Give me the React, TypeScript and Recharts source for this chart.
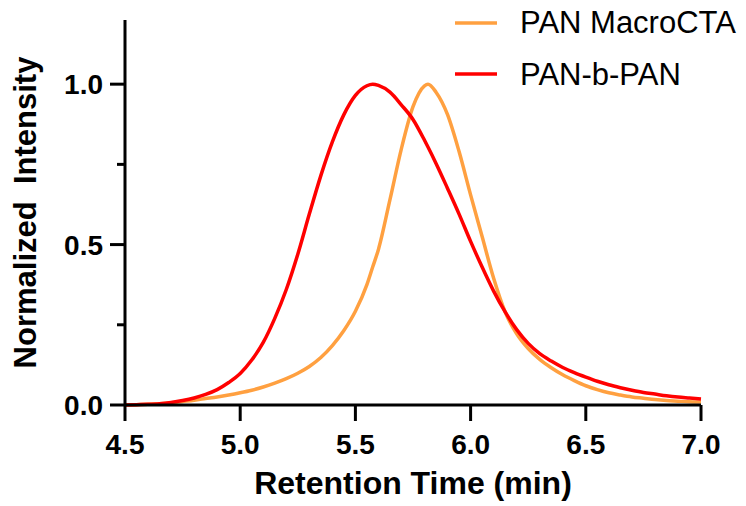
import { CartesianGrid, Legend, Line, LineChart, XAxis, YAxis } from "recharts";

const FONT = "'Liberation Sans', Arial, sans-serif";
const ORANGE = "#FFA040";
const RED = "#FF0000";

// retention time grid (min); extra points at the two peak maxima
const TIME = [
  4.5, 4.55, 4.6, 4.65, 4.7, 4.75, 4.8, 4.85, 4.9, 4.95, 5.0, 5.05, 5.1, 5.15, 5.2, 5.25, 5.3, 5.35, 5.4, 5.45,
  5.5, 5.55, 5.575, 5.6, 5.65, 5.7, 5.75, 5.8, 5.815, 5.85, 5.9, 5.95, 6.0, 6.05, 6.1, 6.15, 6.2, 6.25, 6.3,
  6.35, 6.4, 6.45, 6.5, 6.55, 6.6, 6.65, 6.7, 6.75, 6.8, 6.85, 6.9, 6.95, 7.0,
];
const MACRO_CTA = [
  0.0, 0.001, 0.002, 0.004, 0.007, 0.011, 0.015, 0.02, 0.025, 0.031, 0.038, 0.046, 0.056, 0.068, 0.082, 0.099,
  0.12, 0.148, 0.185, 0.232, 0.292, 0.375, 0.43, 0.485, 0.64, 0.8, 0.93, 0.995, 1.0, 0.975, 0.905, 0.79, 0.655,
  0.525, 0.395, 0.29, 0.222, 0.176, 0.142, 0.116, 0.094, 0.076, 0.06, 0.048, 0.038, 0.031, 0.025, 0.021, 0.017,
  0.014, 0.012, 0.01, 0.009,
];
const BLOCK = [
  0.0, 0.001, 0.002, 0.004, 0.008, 0.014, 0.022, 0.033, 0.048, 0.07, 0.098, 0.14, 0.195, 0.27, 0.36, 0.47,
  0.595, 0.715, 0.82, 0.905, 0.965, 0.995, 1.0, 0.996, 0.975, 0.935, 0.89, 0.825, 0.804, 0.753, 0.675, 0.595,
  0.51, 0.43, 0.355, 0.29, 0.235, 0.192, 0.16, 0.137, 0.117, 0.101, 0.087, 0.074, 0.063, 0.054, 0.046, 0.039,
  0.034, 0.029, 0.025, 0.022, 0.019,
];
const X_TICKS = [4.5, 5.0, 5.5, 6.0, 6.5, 7.0];
const Y_TICKS = [0, 0.25, 0.5, 0.75, 1.0];
const Y_MAJOR = [0, 0.5, 1.0];

const data = TIME.map((t, i) => ({ t, macro: MACRO_CTA[i], block: BLOCK[i] }));

const Y_TICK_LEN = 15;
const Y_MINOR_LEN = 8;
const Y_GAP = 7;

function YTick(props: any) {
  const { x, y, payload } = props;
  const axisX = x + Y_TICK_LEN + Y_GAP;
  const major = Y_MAJOR.includes(payload.value);
  return (
    <g>
      <line x1={axisX - (major ? Y_TICK_LEN : Y_MINOR_LEN)} x2={axisX} y1={y} y2={y} stroke="#000" strokeWidth={3} />
      {major && (
        <text x={x} y={y} dy="0.36em" textAnchor="end" fontSize={28} fontWeight="bold" fill="#000" fontFamily={FONT}>
          {Number(payload.value).toFixed(1)}
        </text>
      )}
    </g>
  );
}

function LegendBox(props: any) {
  const items = props.payload ?? [];
  return (
    <svg width={316} height={100}>
      {items.map((it: any, i: number) => (
        <g key={it.value}>
          <line x1={25} x2={67} y1={23 + i * 51} y2={23 + i * 51} stroke={it.color} strokeWidth={3.5} />
          <text x={90} y={33 + i * 52} fontSize={31} fill="#000" fontFamily={FONT}>
            {it.value}
          </text>
        </g>
      ))}
    </svg>
  );
}

export default function App() {
  return (
    <div style={{ position: "absolute", left: 0, top: 0, width: 746, height: 506, background: "#fff" }}>
      <LineChart width={746} height={506} data={data} margin={{ top: 20, right: 45, left: 0, bottom: 0 }} style={{ fontFamily: FONT }}>
        <CartesianGrid stroke="none" />
        <XAxis
          dataKey="t"
          type="number"
          domain={[4.5, 7]}
          ticks={X_TICKS}
          height={101}
          tickSize={16}
          tickMargin={13}
          axisLine={{ stroke: "#000", strokeWidth: 3 }}
          tickLine={{ stroke: "#000", strokeWidth: 3 }}
          tick={{ fontSize: 28, fontWeight: "bold", fill: "#000", fontFamily: FONT }}
          tickFormatter={(v) => Number(v).toFixed(1)}
          label={({ viewBox }: any) => (
            <text x={viewBox.x + viewBox.width / 2} y={viewBox.y + 89} textAnchor="middle" fontSize={32} fontWeight="bold" fill="#000" fontFamily={FONT}>
              Retention Time (min)
            </text>
          )}
        />
        <YAxis
          type="number"
          domain={[0, 1.2]}
          ticks={Y_TICKS}
          width={125}
          tickSize={Y_TICK_LEN}
          tickMargin={Y_GAP}
          tickLine={false}
          axisLine={{ stroke: "#000", strokeWidth: 3 }}
          tick={<YTick />}
          label={({ viewBox }: any) => {
            const cy = viewBox.y + viewBox.height / 2;
            return (
              <text x={36} y={cy} transform={`rotate(-90 36 ${cy})`} textAnchor="middle" fontSize={31} fontWeight="bold" fill="#000" fontFamily={FONT} style={{ whiteSpace: "pre" }}>
                {"Normalized  Intensity"}
              </text>
            );
          }}
        />
        <Legend
          layout="vertical"
          align="center"
          verticalAlign="middle"
          content={<LegendBox />}
          wrapperStyle={{ position: "absolute", top: 0, left: 430, width: 316 }}
        />
        <Line name="PAN MacroCTA" dataKey="macro" type="monotone" stroke={ORANGE} strokeWidth={3.5} dot={false} isAnimationActive={false} />
        <Line name="PAN-b-PAN" dataKey="block" type="monotone" stroke={RED} strokeWidth={3.5} dot={false} isAnimationActive={false} />
      </LineChart>
    </div>
  );
}
